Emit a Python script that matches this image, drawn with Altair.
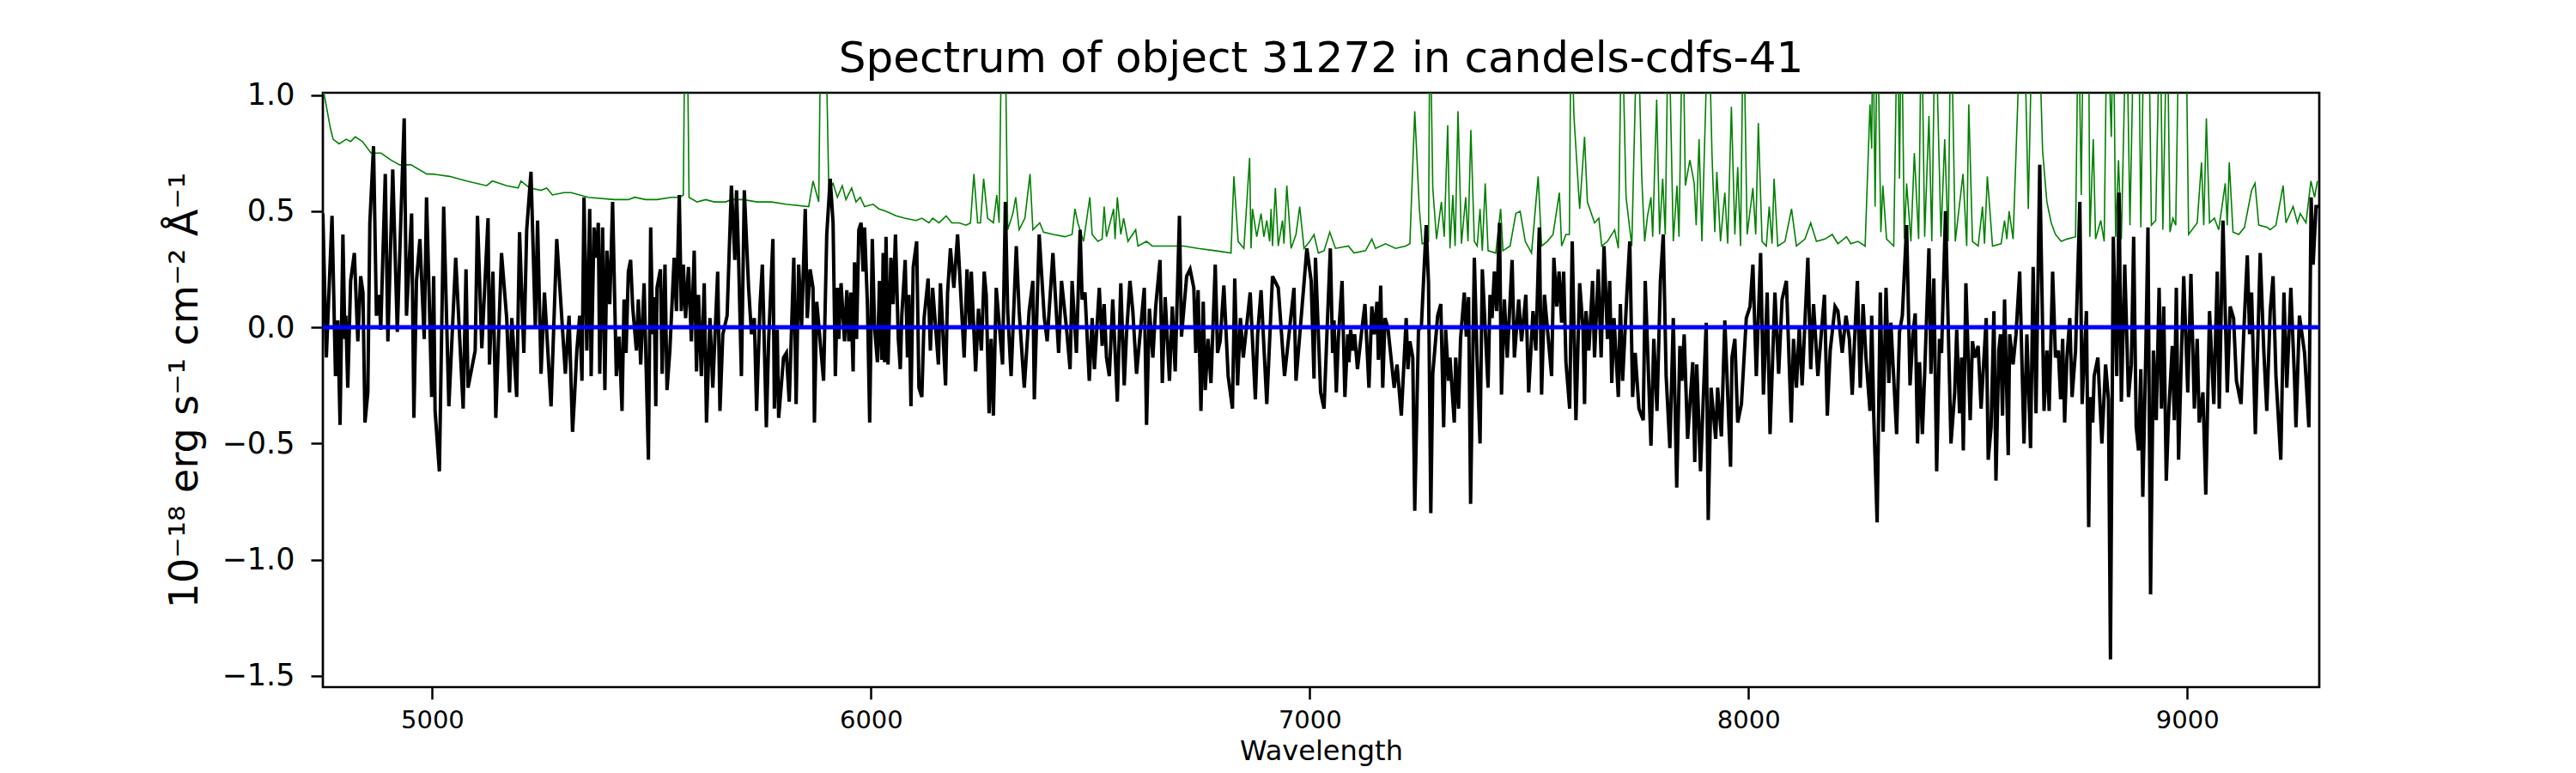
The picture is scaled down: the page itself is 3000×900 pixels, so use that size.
import altair as alt
import pandas as pd

# ---- black flux spectrum, (wavelength, flux), segment by segment ----
flux_seg1 = [(4750.7, 0.49), (4758.6, -0.13), (4771.6, 0.48), (4779.5, -0.21), (4784.7, 0.03), (4789.9, -0.42),
             (4796.4, 0.40), (4801.0, -0.05), (4803.0, 0.05), (4807.5, -0.26), (4814.0, 0.20), (4822.5, 0.32),
             (4830.4, -0.06), (4836.9, 0.22), (4842.1, 0.15), (4846.7, -0.41), (4853.2, -0.28), (4857.8, 0.45),
             (4866.2, 0.78), (4872.8, 0.05), (4879.3, 0.14), (4882.6, -0.01), (4893.0, 0.66), (4898.9, -0.06),
             (4910.0, 0.68), (4920.4, -0.02), (4928.2, 0.45), (4936.1, 0.90), (4941.3, 0.05), (4953.0, 0.49),
             (4958.2, -0.39), (4964.1, 0.20), (4971.9, 0.38), (4981.7, -0.05), (4987.0, 0.56), (4993.5, 0.10),
             (4998.7, -0.30), (5003.3, 0.22), (5006.5, -0.36), (5016.3, -0.62), (5026.1, 0.52), (5037.9, -0.34),
             (5053.5, 0.30), (5070.5, -0.35), (5077.0, 0.25), (5081.6, -0.26), (5097.9, -0.10), (5103.1, 0.48),
             (5113.0, -0.09), (5127.2, 0.47), (5130.5, -0.16), (5138.3, 0.24), (5144.9, -0.39), (5157.9, 0.32),
             (5169.7, 0.04), (5176.2, -0.28), (5181.4, 0.04), (5192.5, -0.30), (5199.0, 0.41), (5208.8, -0.11),
             (5215.3, 0.42), (5225.1, 0.67), (5234.9, 0.00), (5240.1, 0.46), (5248.0, -0.20), (5255.8, 0.15),
             (5270.8, -0.34), (5283.8, 0.38), (5303.4, -0.20), (5311.9, 0.05)]
flux_seg2 = [(5319.8, -0.45), (5324.3, -0.30), (5329.6, -0.10), (5336.1, 0.05), (5341.3, -0.23), (5345.9, 0.56),
             (5352.4, -0.10), (5358.9, 0.51), (5362.2, -0.21), (5368.7, 0.43), (5373.9, 0.30), (5378.5, 0.45),
             (5381.8, -0.20), (5388.3, 0.43), (5393.5, -0.27), (5398.1, 0.33), (5404.6, 0.10), (5411.1, 0.54),
             (5419.6, -0.21), (5426.1, -0.04), (5432.6, -0.36), (5437.2, 0.12), (5441.8, -0.11), (5447.0, 0.24),
             (5452.2, 0.29), (5456.8, 0.09), (5465.3, -0.10), (5469.8, 0.12), (5475.1, -0.16), (5482.9, 0.19),
             (5492.7, -0.57), (5497.9, 0.43), (5502.5, -0.03), (5505.7, 0.13), (5509.6, -0.34), (5512.3, 0.17),
             (5520.1, 0.25), (5524.0, -0.20), (5530.5, 0.27), (5535.1, -0.27), (5541.6, -0.10), (5551.4, 0.30),
             (5556.6, 0.07), (5563.1, 0.57), (5567.7, 0.07), (5572.3, 0.27), (5577.5, 0.04), (5584.0, 0.26),
             (5590.6, -0.06), (5597.1, 0.33), (5602.3, -0.19), (5606.9, 0.14), (5613.4, -0.21), (5619.9, 0.19),
             (5625.1, -0.41), (5633.0, 0.04), (5639.5, -0.26), (5650.6, 0.24), (5655.8, -0.36), (5662.3, -0.03),
             (5672.1, 0.05), (5681.9, 0.61), (5689.7, 0.29), (5693.6, 0.59), (5698.2, 0.30), (5704.7, -0.21),
             (5711.3, 0.59), (5721.1, 0.17), (5727.6, -0.03), (5734.1, 0.04), (5739.3, -0.36), (5747.2, 0.10),
             (5752.4, 0.27), (5761.5, -0.43), (5766.7, -0.06), (5776.5, 0.38), (5779.8, -0.35), (5786.3, -0.01),
             (5789.6, -0.39), (5800.7, -0.13), (5807.2, -0.11), (5813.7, -0.32), (5824.1, 0.30), (5829.4, -0.33),
             (5835.2, 0.27), (5841.8, 0.00), (5850.2, 0.51), (5854.8, 0.04), (5861.3, 0.25), (5867.9, 0.17),
             (5871.1, -0.41), (5876.4, 0.11), (5892.0, -0.23)]
flux_seg3 = [(5899.2, 0.40), (5907.1, 0.64), (5913.6, 0.45), (5918.8, -0.21), (5923.4, 0.17), (5926.6, -0.05),
             (5931.8, 0.19), (5939.7, -0.06), (5944.9, 0.16), (5949.5, -0.06), (5954.0, 0.15), (5959.3, -0.19),
             (5962.5, 0.28), (5967.1, -0.05), (5972.3, 0.42), (5977.5, 0.45), (5982.1, 0.24), (5985.4, 0.43),
             (5991.9, 0.10), (5997.1, -0.41), (6003.0, 0.38), (6008.2, 0.00), (6014.7, -0.15), (6019.3, 0.20),
             (6024.5, -0.14), (6027.8, 0.32), (6031.0, -0.15), (6034.3, 0.39), (6038.9, -0.16), (6045.4, 0.30),
             (6050.6, 0.10), (6055.8, 0.40), (6062.3, -0.05), (6066.9, -0.18), (6070.2, 0.05), (6078.0, 0.29),
             (6083.2, -0.13), (6086.5, 0.14), (6091.1, -0.34), (6096.3, 0.26), (6104.1, 0.37), (6109.3, -0.26),
             (6115.9, -0.30), (6121.1, 0.04), (6130.2, 0.21), (6135.4, -0.10), (6140.6, 0.17), (6153.7, -0.16),
             (6158.3, 0.19), (6170.0, -0.25), (6174.6, 0.15), (6181.1, 0.34), (6188.9, 0.17), (6197.4, 0.40),
             (6205.9, 0.10), (6212.4, -0.13), (6218.9, 0.25), (6225.5, 0.00), (6228.7, 0.24), (6238.5, -0.19),
             (6245.0, 0.08), (6251.6, -0.10), (6258.1, 0.24), (6262.7, 0.14), (6269.2, -0.37), (6273.8, -0.05),
             (6279.0, -0.38), (6285.5, 0.17), (6299.9, -0.16), (6306.4, 0.54), (6311.6, 0.07), (6319.4, -0.21),
             (6331.2, 0.35), (6337.7, 0.07), (6349.4, -0.26), (6360.5, 0.07), (6369.0, 0.20), (6372.3, -0.31),
             (6383.4, 0.40), (6395.1, 0.04), (6401.6, -0.06), (6414.7, 0.32), (6427.7, -0.11), (6434.3, 0.20),
             (6445.4, 0.00), (6453.8, -0.18), (6458.4, 0.20), (6468.2, -0.11)]
flux_seg4 = [(6476.7, 0.42), (6481.3, 0.12), (6487.8, 0.15), (6497.6, -0.23), (6504.1, 0.04), (6509.3, -0.18),
             (6520.4, 0.17), (6527.0, -0.08), (6531.5, 0.10), (6536.8, -0.13), (6543.3, -0.21), (6551.1, 0.12),
             (6561.5, -0.32), (6569.4, 0.19), (6577.2, -0.25), (6582.4, -0.03), (6590.3, 0.20), (6596.8, 0.07),
             (6605.3, -0.20), (6622.9, 0.17), (6628.1, -0.42), (6634.6, 0.08), (6642.5, -0.13), (6649.0, 0.09),
             (6658.8, 0.29), (6664.0, -0.24), (6670.5, 0.13), (6680.3, -0.23), (6686.8, 0.09), (6693.4, -0.19),
             (6703.1, 0.48), (6707.7, -0.04), (6719.5, 0.22), (6727.3, 0.25), (6735.8, 0.17), (6740.3, -0.11),
             (6745.6, 0.16), (6752.1, -0.36), (6757.3, 0.11), (6761.9, -0.27), (6768.4, -0.05), (6774.9, -0.24),
             (6784.7, 0.27), (6789.9, -0.11), (6795.8, -0.06), (6804.3, 0.18), (6814.1, -0.21), (6823.9, -0.35),
             (6829.1, 0.21), (6835.6, -0.25), (6842.1, 0.04), (6848.6, -0.13), (6864.3, 0.15), (6876.1, -0.31),
             (6881.3, -0.03), (6889.1, 0.16), (6902.2, -0.33), (6915.2, 0.22), (6928.3, 0.17), (6942.6, -0.21),
             (6964.1, 0.17), (6968.7, -0.23), (6993.5, 0.34), (7003.3, 0.20), (7009.8, -0.22), (7013.1, 0.30),
             (7024.8, -0.28), (7032.7, -0.35), (7039.2, -0.03), (7047.0, 0.34)]
flux_seg5 = [(7052.2, -0.11), (7055.4, 0.03), (7060.6, -0.28), (7065.2, -0.05), (7073.7, 0.20), (7080.2, -0.30),
             (7086.7, -0.03), (7089.4, -0.15), (7093.3, -0.01), (7097.8, -0.10), (7102.4, -0.03), (7108.9, -0.18),
             (7119.4, 0.00), (7125.9, 0.10), (7135.0, -0.26), (7141.6, 0.09), (7146.8, -0.03), (7153.3, 0.11),
             (7156.6, -0.14), (7161.8, 0.18), (7166.4, -0.26), (7171.6, 0.04), (7178.1, 0.00), (7192.5, -0.26),
             (7199.0, -0.16), (7208.8, -0.38), (7219.9, 0.04), (7223.8, -0.18), (7228.3, -0.06), (7234.9, -0.13),
             (7239.4, -0.79), (7247.9, -0.01), (7254.4, 0.00), (7265.5, 0.44), (7270.8, 0.19), (7276.0, -0.80),
             (7280.5, -0.20), (7291.6, 0.05), (7298.8, 0.10), (7305.3, -0.43), (7309.9, -0.01), (7316.4, -0.23),
             (7319.7, -0.13), (7329.5, -0.41), (7332.7, -0.13), (7339.3, -0.35), (7343.8, -0.05), (7352.3, 0.15),
             (7356.9, -0.04), (7362.1, 0.13), (7366.7, -0.76), (7375.2, 0.30), (7381.7, -0.15), (7388.2, -0.50),
             (7393.4, 0.25), (7406.5, -0.26), (7411.0, 0.14), (7415.6, 0.04), (7420.8, 0.24), (7426.0, 0.07),
             (7432.6, 0.45), (7437.1, -0.29), (7443.7, 0.12), (7450.2, -0.13), (7461.3, 0.29), (7466.5, -0.13),
             (7476.3, 0.12), (7482.8, -0.06), (7492.6, 0.14), (7499.1, -0.28), (7508.9, 0.07), (7515.4, -0.10),
             (7523.3, 0.43), (7528.5, -0.29), (7535.0, 0.14), (7551.3, -0.21), (7556.5, 0.30), (7563.1, 0.09),
             (7568.3, 0.24), (7574.2, 0.02), (7578.8, 0.24), (7584.0, -0.15), (7592.5, -0.35), (7598.3, 0.37),
             (7606.8, -0.40), (7615.3, 0.19), (7623.1, -0.01)]
flux_seg6 = [(7626.4, -0.33), (7629.7, 0.07), (7636.2, -0.10), (7644.7, 0.20), (7649.2, -0.13), (7657.7, 0.25),
             (7664.2, -0.13), (7670.8, 0.35), (7678.6, -0.05), (7683.8, 0.20), (7688.4, -0.24), (7693.6, 0.04),
             (7703.4, -0.30), (7708.0, 0.10), (7713.2, -0.23), (7723.0, 0.15), (7729.5, 0.37), (7736.0, -0.30),
             (7741.9, -0.11), (7750.4, -0.35), (7760.2, -0.40), (7764.7, 0.20), (7777.8, -0.51), (7784.3, -0.05),
             (7791.5, -0.36), (7799.3, 0.20), (7805.8, 0.40), (7812.4, -0.21), (7820.9, -0.52), (7828.7, 0.04),
             (7836.5, -0.69), (7843.7, -0.08), (7848.3, -0.23), (7853.5, -0.03), (7861.3, -0.48), (7873.1, -0.15),
             (7877.6, -0.58), (7882.2, -0.16), (7890.7, -0.62), (7903.7, 0.02), (7908.3, -0.83), (7914.8, -0.26),
             (7925.3, -0.48), (7929.8, -0.26), (7938.3, -0.47), (7946.1, 0.03), (7959.2, -0.60), (7962.4, -0.13),
             (7969.0, -0.05), (7975.5, -0.41), (7984.0, -0.33), (7995.1, 0.04), (8003.6, 0.09), (8010.1, 0.27),
             (8017.9, -0.21), (8027.7, 0.32), (8034.2, -0.29), (8042.7, 0.15), (8049.2, -0.46), (8060.3, 0.15),
             (8068.8, -0.20), (8076.6, 0.12), (8086.4, 0.20), (8097.5, -0.41), (8102.7, -0.05), (8109.3, -0.26),
             (8115.8, 0.00), (8122.3, -0.25), (8135.4, 0.30), (8141.9, -0.18), (8148.4, 0.10), (8158.2, -0.21),
             (8173.2, 0.14), (8179.7, -0.38), (8186.3, -0.10), (8197.4, 0.09)]
flux_seg7 = [(8203.9, 0.07), (8213.7, -0.11), (8222.2, 0.05), (8230.0, -0.05), (8236.5, -0.29), (8241.7, -0.06),
             (8248.3, 0.20), (8254.8, -0.26), (8261.3, 0.10), (8267.8, -0.13), (8277.0, -0.36), (8280.9, 0.05),
             (8285.5, -0.38), (8293.3, -0.84), (8300.5, 0.15), (8307.0, -0.45), (8313.5, 0.17), (8320.0, -0.24),
             (8324.6, 0.02), (8337.7, -0.46), (8344.2, -0.02), (8350.7, 0.05), (8360.5, 0.44), (8368.3, -0.25),
             (8374.9, -0.03), (8380.1, 0.06), (8385.3, -0.50), (8389.9, -0.15), (8396.4, -0.46), (8401.6, -0.20),
             (8411.4, 0.34), (8416.0, -0.20), (8422.5, 0.21), (8429.0, -0.62), (8435.5, -0.05), (8440.1, -0.11),
             (8449.2, 0.50), (8461.6, -0.50), (8470.1, -0.28), (8474.7, -0.01), (8481.2, -0.37), (8485.8, -0.13),
             (8489.7, -0.53), (8495.6, 0.19), (8505.4, -0.40), (8510.6, -0.06), (8515.8, -0.13), (8523.6, -0.08),
             (8530.2, -0.35), (8541.9, 0.04), (8546.5, -0.57), (8553.0, -0.43), (8559.5, 0.07), (8564.1, -0.66),
             (8570.6, -0.10), (8574.5, -0.03), (8579.1, -0.38), (8583.7, 0.12), (8592.1, -0.55), (8595.4, -0.03),
             (8603.2, -0.16), (8609.8, -0.03), (8618.2, 0.24), (8628.0, -0.50), (8634.6, -0.03), (8643.0, -0.52),
             (8648.9, 0.26), (8655.4, -0.37), (8663.9, 0.70), (8673.7, -0.36), (8680.2, -0.10), (8685.4, -0.36),
             (8693.3, 0.24), (8699.8, -0.13), (8706.3, -0.10), (8711.5, -0.31), (8716.1, -0.05), (8720.7, -0.41),
             (8725.9, -0.13), (8732.4, 0.04), (8737.6, -0.30), (8745.5, -0.10), (8755.3, 0.54), (8760.5, -0.33),
             (8770.3, 0.07), (8775.5, -0.86)]
flux_seg8 = [(8779.4, -0.30), (8784.7, -0.41), (8787.9, -0.21), (8796.4, -0.13), (8805.5, -0.50), (8814.0, -0.16),
             (8820.5, -0.31), (8825.1, -1.43), (8831.6, 0.39), (8839.5, -0.21), (8844.7, 0.58), (8849.9, -0.32),
             (8857.7, 0.27), (8866.2, -0.30), (8872.7, -0.16), (8878.0, 0.39), (8883.8, -0.43), (8889.1, -0.53),
             (8894.3, -0.18), (8898.8, -0.73), (8905.4, -0.13), (8910.6, 0.43), (8916.5, -1.15), (8923.0, -0.10),
             (8929.5, -0.40), (8936.0, 0.17), (8941.3, -0.35), (8946.5, 0.09), (8952.3, -0.66), (8957.6, -0.38),
             (8966.0, -0.08), (8970.6, -0.40), (8975.2, 0.17), (8980.4, -0.57), (8985.6, -0.20), (8992.1, 0.22),
             (9001.3, -0.28), (9008.5, 0.23), (9016.3, -0.35), (9022.8, -0.05), (9027.4, -0.41), (9035.9, -0.28),
             (9042.4, -0.72), (9050.9, 0.07), (9060.7, -0.33), (9068.5, 0.24), (9073.1, -0.35), (9081.5, 0.46),
             (9091.3, -0.28), (9097.9, 0.09), (9105.7, 0.04), (9112.2, -0.23), (9122.7, -0.33), (9129.2, -0.01),
             (9137.0, 0.31), (9142.2, -0.03), (9146.8, 0.15), (9155.3, -0.46), (9166.4, 0.32), (9174.8, -0.11),
             (9181.4, -0.36), (9189.2, 0.07), (9195.7, 0.22), (9202.3, -0.21), (9213.3, -0.57), (9220.5, 0.15),
             (9227.0, -0.26), (9236.2, 0.17), (9244.7, -0.23), (9247.9, -0.43), (9255.8, 0.05), (9267.5, -0.11),
             (9277.3, -0.43), (9282.5, 0.56), (9287.1, 0.27), (9293.6, 0.52), (9300.1, 0.52)]

# ---- green error spectrum (values above 1.0 run off the top of the frame) ----
err_seg1 = [(4750.7, 1.02), (4754.0, 1.00), (4767.6, 0.86), (4774.0, 0.81), (4787.8, 0.79), (4804.0, 0.81),
            (4814.0, 0.80), (4824.6, 0.82), (4841.0, 0.80), (4860.6, 0.75), (4883.5, 0.75), (4906.0, 0.72),
            (4925.6, 0.70), (4951.6, 0.70), (4987.6, 0.66), (5000.0, 0.66), (5039.2, 0.65), (5078.3, 0.63),
            (5124.0, 0.61), (5137.0, 0.63), (5169.7, 0.61), (5195.8, 0.60), (5202.3, 0.63), (5221.9, 0.60),
            (5248.0, 0.59), (5261.0, 0.60), (5274.0, 0.57), (5300.2, 0.58)]
err_seg2 = [(5316.5, 0.58), (5355.7, 0.56), (5414.4, 0.55), (5447.0, 0.55), (5461.4, 0.56), (5486.2, 0.55),
            (5512.3, 0.55), (5544.9, 0.56), (5564.5, 0.56), (5572.3, 0.57), (5576.2, 1.40), (5580.8, 1.40),
            (5585.3, 0.56), (5603.6, 0.54), (5623.2, 0.55), (5642.8, 0.54), (5668.9, 0.54), (5681.9, 0.55),
            (5708.0, 0.55), (5740.6, 0.54), (5773.3, 0.54), (5805.9, 0.53), (5858.1, 0.52), (5867.9, 0.63),
            (5880.9, 0.54), (5886.1, 1.40), (5895.9, 1.40), (5903.8, 0.60)]
err_seg3 = [(5913.6, 0.62), (5923.4, 0.56), (5934.5, 0.61), (5942.9, 0.55), (5956.0, 0.60), (5965.8, 0.54),
            (5975.6, 0.56), (5985.4, 0.52), (6004.9, 0.53), (6018.0, 0.51), (6034.3, 0.50), (6057.1, 0.48),
            (6076.7, 0.47), (6102.8, 0.46), (6115.9, 0.47), (6132.2, 0.45), (6140.6, 0.47), (6155.0, 0.45),
            (6171.3, 0.48), (6184.4, 0.45), (6200.7, 0.45), (6217.0, 0.44), (6226.8, 0.45), (6234.6, 0.66),
            (6243.1, 0.45), (6249.6, 0.45), (6256.8, 0.64), (6265.9, 0.47), (6279.0, 0.45), (6286.8, 0.57),
            (6292.0, 0.45), (6298.6, 1.40), (6305.1, 1.40), (6311.6, 0.42), (6323.4, 0.49), (6329.9, 0.56),
            (6337.7, 0.42), (6350.8, 0.47), (6362.5, 0.66), (6369.0, 0.42), (6384.7, 0.45), (6393.2, 0.41),
            (6416.0, 0.40), (6442.1, 0.39), (6458.4, 0.40), (6464.9, 0.51)]
err_seg4 = [(6471.5, 0.45), (6484.5, 0.37), (6498.9, 0.56), (6504.1, 0.40), (6517.2, 0.37), (6527.0, 0.38),
            (6531.5, 0.52), (6536.8, 0.39), (6553.1, 0.51), (6556.3, 0.38), (6561.5, 0.56), (6569.4, 0.40),
            (6575.9, 0.47), (6585.7, 0.37), (6603.3, 0.42), (6608.5, 0.35), (6628.1, 0.37), (6641.1, 0.35),
            (6667.3, 0.35), (6693.4, 0.35), (6712.9, 0.35), (6745.6, 0.34), (6784.7, 0.33), (6820.6, 0.32),
            (6827.1, 0.65), (6836.9, 0.37), (6850.0, 0.34), (6863.0, 0.73), (6866.3, 0.34), (6869.5, 0.51),
            (6879.3, 0.39), (6889.1, 0.49), (6895.6, 0.39), (6902.2, 0.46), (6908.7, 0.37), (6911.9, 0.51),
            (6915.2, 0.35), (6921.7, 0.60), (6928.3, 0.35), (6938.0, 0.46), (6941.3, 0.36), (6947.8, 0.61),
            (6957.6, 0.34), (6968.7, 0.40), (6977.2, 0.52), (6987.0, 0.34), (7000.0, 0.37), (7009.8, 0.40),
            (7019.6, 0.32), (7032.7, 0.33), (7045.7, 0.41), (7058.7, 0.34)]
err_seg5 = [(7088.1, 0.35), (7101.1, 0.32), (7127.2, 0.33), (7141.6, 0.38), (7150.0, 0.34), (7172.9, 0.36),
            (7195.7, 0.34), (7218.6, 0.35), (7228.3, 0.36), (7239.4, 0.93), (7249.9, 0.51), (7256.4, 0.36),
            (7270.8, 0.37), (7274.0, 1.40), (7280.5, 0.60), (7289.0, 0.38), (7300.1, 0.54), (7306.6, 0.39),
            (7314.5, 0.87), (7319.7, 0.34), (7326.2, 0.57), (7331.4, 0.35), (7338.0, 0.93), (7345.8, 0.36),
            (7355.6, 0.56), (7360.8, 0.37), (7367.3, 0.85), (7375.2, 0.37), (7381.7, 0.35), (7388.2, 0.51),
            (7393.4, 0.33), (7400.0, 0.62), (7406.5, 0.33), (7424.1, 0.32), (7435.2, 0.51), (7440.4, 0.33),
            (7456.7, 0.35), (7469.8, 0.49), (7479.6, 0.50), (7491.3, 0.37), (7505.6, 0.32), (7520.7, 0.65),
            (7528.5, 0.35), (7541.5, 0.37), (7554.6, 0.40), (7569.0, 0.58), (7574.2, 0.35), (7584.0, 0.40),
            (7591.8, 0.40), (7595.7, 1.40), (7602.2, 0.91), (7615.3, 0.51), (7626.4, 0.82)]
err_seg6 = [(7632.9, 0.54), (7649.2, 0.45), (7659.0, 0.47), (7665.6, 0.35), (7678.6, 0.37), (7694.9, 0.42),
            (7703.4, 0.34), (7711.2, 1.40), (7721.0, 0.56), (7734.1, 0.35), (7747.1, 1.40), (7756.9, 0.64),
            (7763.4, 0.37), (7770.0, 0.48), (7777.8, 0.56), (7781.7, 0.39), (7790.8, 0.98), (7797.4, 0.40),
            (7804.5, 0.64), (7810.4, 0.40), (7817.6, 1.40), (7828.7, 0.37), (7837.2, 0.61), (7841.7, 0.39),
            (7850.2, 1.40), (7856.1, 0.61), (7866.5, 0.72), (7876.3, 0.62), (7880.9, 0.44), (7887.4, 0.81),
            (7893.9, 0.37), (7908.9, 1.40), (7916.8, 0.75), (7923.3, 0.41), (7927.9, 0.67), (7936.3, 0.37),
            (7946.1, 0.58), (7952.7, 0.36), (7961.1, 0.95), (7969.0, 0.40), (7975.5, 0.69), (7982.0, 0.35),
            (7988.5, 1.40), (7997.0, 0.40), (8010.1, 0.60), (8016.6, 0.40), (8022.5, 0.88), (8031.0, 0.37),
            (8040.7, 0.35), (8047.3, 0.52), (8053.8, 0.36), (8058.4, 0.64), (8066.8, 0.35), (8083.2, 0.37),
            (8098.2, 0.51), (8109.3, 0.35), (8128.8, 0.38), (8141.9, 0.45), (8154.9, 0.37), (8174.5, 0.38),
            (8190.8, 0.40)]
err_seg7 = [(8203.9, 0.36), (8223.5, 0.39), (8233.3, 0.36), (8249.6, 0.37), (8265.9, 0.35), (8277.0, 0.96),
            (8280.9, 0.77), (8283.5, 1.40), (8288.7, 0.52), (8293.9, 1.40), (8301.8, 0.41), (8306.3, 0.61),
            (8314.8, 0.38), (8331.1, 0.35), (8339.6, 1.40), (8344.2, 0.64), (8348.8, 1.40), (8355.3, 0.38),
            (8360.5, 0.62), (8370.3, 0.37), (8378.1, 0.75), (8387.9, 0.38), (8394.4, 1.40), (8401.6, 0.39),
            (8411.4, 0.91), (8417.9, 0.37), (8425.8, 1.40), (8438.8, 0.39), (8447.3, 0.81), (8455.1, 0.37),
            (8461.6, 1.40), (8471.4, 0.37), (8489.0, 0.66), (8497.5, 0.35), (8502.1, 0.96), (8510.6, 0.37),
            (8523.6, 0.35), (8533.4, 0.52), (8538.0, 0.36), (8544.5, 0.65), (8556.3, 0.35), (8575.8, 0.36),
            (8583.7, 0.46), (8588.9, 0.38), (8594.1, 0.50), (8603.2, 0.38), (8621.5, 1.40), (8628.0, 1.40),
            (8637.8, 0.51), (8647.6, 1.40), (8660.7, 1.40), (8670.4, 0.76), (8680.2, 0.54), (8690.0, 0.45),
            (8699.8, 0.40), (8712.8, 0.37), (8725.9, 0.38), (8745.5, 0.39), (8752.0, 1.40), (8758.5, 0.57),
            (8763.7, 1.40), (8775.0, 1.40), (8778.1, 0.39), (8785.9, 0.81)]
err_seg8 = [(8791.2, 0.38), (8802.9, 0.46), (8810.8, 0.37), (8817.3, 1.40), (8827.1, 0.82), (8831.6, 1.40),
            (8836.9, 0.39), (8843.4, 0.72), (8849.9, 0.38), (8861.6, 1.40), (8869.5, 0.44), (8879.3, 1.40),
            (8889.1, 1.40), (8894.3, 0.43), (8902.1, 1.40), (8911.9, 1.40), (8918.4, 0.44), (8928.2, 0.46),
            (8938.0, 1.40), (8944.5, 0.42), (8954.3, 1.40), (8960.8, 0.41), (8967.4, 0.47), (8973.9, 0.44),
            (8981.7, 1.40), (8996.7, 1.40), (9003.2, 0.40), (9022.8, 0.45), (9032.6, 0.71), (9037.8, 0.44),
            (9043.7, 0.90), (9050.9, 0.45), (9062.0, 0.47), (9071.8, 0.42), (9086.8, 0.62), (9091.3, 0.44),
            (9095.9, 0.71), (9104.4, 0.41), (9117.4, 0.40), (9130.5, 0.43), (9146.8, 0.59), (9154.6, 0.62),
            (9163.1, 0.44), (9182.7, 0.43), (9189.2, 0.42), (9202.3, 0.44), (9218.6, 0.61), (9225.1, 0.45),
            (9241.4, 0.52), (9251.2, 0.45), (9257.7, 0.49), (9270.8, 0.45), (9281.9, 0.63), (9290.4, 0.56),
            (9296.9, 0.63)]

x_ticks = [5000, 6000, 7000, 8000, 9000]
y_ticks = [-1.5, -1.0, -0.5, 0.0, 0.5, 1.0]
x_domain = [4750.7, 9301.0]
y_domain = [-1.549, 1.01]
zero_level = [0.0]

title_text = "Spectrum of object 31272 in candels-cdfs-41"
x_title = "Wavelength"
y_title = "10⁻¹⁸ erg s⁻¹ cm⁻² Å⁻¹"

flux_pts = flux_seg1 + flux_seg2 + flux_seg3 + flux_seg4 + flux_seg5 + flux_seg6 + flux_seg7 + flux_seg8
err_pts = err_seg1 + err_seg2 + err_seg3 + err_seg4 + err_seg5 + err_seg6 + err_seg7 + err_seg8
flux_df = pd.DataFrame(flux_pts, columns=["wave", "flux"]).sort_values("wave")
err_df = pd.DataFrame(err_pts, columns=["wave", "flux"]).sort_values("wave")
zero_df = pd.DataFrame({"wave": x_domain, "flux": zero_level * 2})

FONT = "DejaVu Sans"
W, H = 2325, 692

x_enc = alt.X("wave:Q", scale=alt.Scale(domain=x_domain, nice=False, zero=False),
              axis=alt.Axis(values=x_ticks, format="d", title=x_title, grid=False, domain=False,
                            tickSize=14, tickWidth=2.5, tickColor="black",
                            labelFontSize=29, labelFont=FONT, labelColor="black", labelPadding=10,
                            titleFontSize=32, titleFont=FONT, titleFontWeight="normal", titleColor="black",
                            titleY=84, titleBaseline="alphabetic"))
y_enc = alt.Y("flux:Q", scale=alt.Scale(domain=y_domain, nice=False, zero=False),
              axis=alt.Axis(values=y_ticks, format=".1f", title=y_title, grid=False, domain=False,
                            tickSize=14, tickWidth=2.5, tickColor="black",
                            labelFontSize=35, labelFont=FONT, labelColor="black", labelPadding=19,
                            titleFontSize=46, titleFont=FONT, titleFontWeight="normal", titleColor="black",
                            titleAngle=270, titleX=-147, titleY=H / 2, titleAlign="center",
                            titleBaseline="alphabetic"))

err_line = alt.Chart(err_df).mark_line(color="#008000", strokeWidth=1.6, clip=True).encode(x=x_enc, y=y_enc)
flux_line = alt.Chart(flux_df).mark_line(color="black", strokeWidth=4, clip=True).encode(x="wave:Q", y="flux:Q")
zero_line = alt.Chart(zero_df).mark_line(color="#0000ff", strokeWidth=5, clip=True).encode(x="wave:Q", y="flux:Q")

chart = alt.layer(err_line, flux_line, zero_line).properties(
    width=W, height=H,
    background="white",
    title=alt.TitleParams(title_text, fontSize=50, font=FONT, fontWeight="normal", color="black",
                          anchor="middle", baseline="bottom", offset=18, dy=68),
    autosize=alt.AutoSizeParams(type="none"),
    padding={"left": 368, "top": 100, "right": 291, "bottom": 92},
).configure_view(stroke="black", strokeWidth=2.7)

chart.save("out.html", embed_options={"renderer": "svg", "actions": False})
